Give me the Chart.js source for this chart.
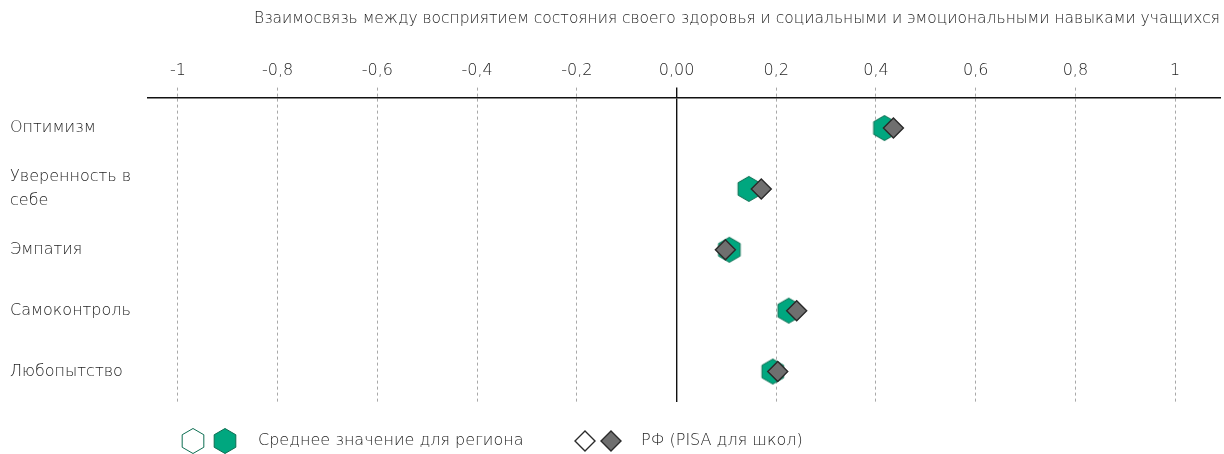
<!DOCTYPE html>
<html lang="ru">
<head>
<meta charset="utf-8">
<title>Взаимосвязь здоровья и навыков</title>
<script src="https://cdn.jsdelivr.net/npm/chart.js@4.4.1/dist/chart.umd.min.js"></script>
<style>
  html, body { margin: 0; padding: 0; background: #fff; overflow: hidden; }
  #wrap { width: 1224px; height: 454px; position: relative; }
</style>
</head>
<body>
<div id="wrap"><canvas id="chart"></canvas></div>
<script>
"use strict";

const titleText = "Взаимосвязь между восприятием состояния своего здоровья и социальными и эмоциональными навыками учащихся";
const skills = ["Оптимизм", ["Уверенность в", "себе"], "Эмпатия", "Самоконтроль", "Любопытство"];
const regionValues = [0.417, 0.145, 0.106, 0.225, 0.193];
const pisaValues = [0.435, 0.170, 0.098, 0.241, 0.203];
const tickValues = [-1, -0.8, -0.6, -0.4, -0.2, 0, 0.2, 0.4, 0.6, 0.8, 1];
const tickLabels = ["-1", "-0,8", "-0,6", "-0,4", "-0,2", "0,00", "0,2", "0,4", "0,6", "0,8", "1"];
const regionLabel = "Среднее значение для региона";
const pisaLabel = "РФ (PISA для школ)";

const FONT = "'DejaVu Sans', sans-serif";
const TEXT = "#1e1e1e";
const GREEN = "#00a77f";
const GREEN_EDGE = "#0d6e52";
const GREY = "#6f6f6f";
const GREY_EDGE = "#2a2a2a";

// pointy-top hexagon used as the region marker
function hexPath(ctx, cx, cy, r) {
  ctx.beginPath();
  for (let i = 0; i < 6; i++) {
    const a = Math.PI / 3 * i - Math.PI / 2;
    const px = cx + Math.cos(a) * r;
    const py = cy + Math.sin(a) * r;
    if (i === 0) ctx.moveTo(px, py); else ctx.lineTo(px, py);
  }
  ctx.closePath();
}

function makeHex(fill, stroke) {
  const c = document.createElement("canvas");
  c.width = 28; c.height = 28;
  const g = c.getContext("2d");
  hexPath(g, 14, 14, 12.5);
  g.fillStyle = fill;
  g.fill();
  g.lineWidth = 1;
  g.strokeStyle = stroke;
  g.stroke();
  return c;
}

const hexFilled = makeHex(GREEN, GREEN_EDGE);
const hexOpen = makeHex("#ffffff", GREEN_EDGE);

function diamond(ctx, cx, cy, r, fill) {
  ctx.beginPath();
  ctx.moveTo(cx, cy - r);
  ctx.lineTo(cx + r, cy);
  ctx.lineTo(cx, cy + r);
  ctx.lineTo(cx - r, cy);
  ctx.closePath();
  ctx.fillStyle = fill;
  ctx.fill();
  ctx.lineWidth = 1.4;
  ctx.strokeStyle = GREY_EDGE;
  ctx.stroke();
}

// legend row under the plot
const bottomLegend = {
  id: "bottomLegend",
  afterDraw(chart) {
    const ctx = chart.ctx;
    const y = 441;
    ctx.save();
    ctx.drawImage(hexOpen, 193 - 14, y - 14);
    ctx.drawImage(hexFilled, 225 - 14, y - 14);
    diamond(ctx, 585, y, 10, "#ffffff");
    diamond(ctx, 611, y, 10, GREY);
    ctx.fillStyle = TEXT;
    ctx.font = "200 16px " + FONT;
    ctx.textBaseline = "middle";
    ctx.textAlign = "left";
    ctx.fillText(regionLabel, 258, y);
    ctx.fillText(pisaLabel, 641, y);
    ctx.restore();
  },
};

const isZero = (c) => c.tick && c.tick.value === 0;

const ctx = document.getElementById("chart").getContext("2d");
new Chart(ctx, {
  type: "line",
  data: {
    labels: skills,
    datasets: [
      {
        label: pisaLabel,
        data: pisaValues,
        order: 0,
        showLine: false,
        pointStyle: "rectRot",
        pointRadius: 10,
        pointHoverRadius: 10,
        pointBackgroundColor: GREY,
        pointBorderColor: GREY_EDGE,
        pointBorderWidth: 1.4,
      },
      {
        label: regionLabel,
        data: regionValues,
        order: 1,
        showLine: false,
        pointStyle: hexFilled,
        pointRadius: 12,
        pointHoverRadius: 12,
      },
    ],
  },
  options: {
    indexAxis: "y",
    responsive: true,
    maintainAspectRatio: false,
    animation: false,
    layout: { autoPadding: false, padding: { top: 0, left: 10, right: 4, bottom: 52 } },
    scales: {
      x: {
        type: "linear",
        position: "top",
        min: -1.06,
        max: 1.09,
        afterBuildTicks: (s) => { s.ticks = tickValues.map((v) => ({ value: v })); },
        afterFit: (s) => { s.height = 57; s.paddingLeft = 0; s.paddingRight = 0; },
        ticks: {
          padding: 7,
          color: TEXT,
          font: { family: FONT, size: 16, weight: 200 },
          callback: (v) => tickLabels[tickValues.findIndex((t) => Math.abs(t - v) < 1e-9)],
        },
        grid: {
          color: (c) => (isZero(c) ? "#111111" : "#a8a8a8"),
          lineWidth: (c) => (isZero(c) ? 1.4 : 1),
          tickColor: (c) => (isZero(c) ? "#111111" : "#a8a8a8"),
          tickWidth: (c) => (isZero(c) ? 1.4 : 1),
          tickLength: 10,
          tickBorderDash: (c) => (isZero(c) ? [] : [3, 3]),
        },
        border: {
          display: true,
          color: "#111111",
          width: 1.6,
          dash: (c) => (isZero(c) ? [] : [3, 3]),
        },
      },
      y: {
        type: "category",
        offset: true,
        afterFit: (s) => { s.width = 138; },
        grid: { display: false },
        border: { display: false },
        ticks: {
          crossAlign: "far",
          color: TEXT,
          font: { family: FONT, size: 16, weight: 200, lineHeight: 1.5 },
        },
      },
    },
    plugins: {
      legend: { display: false },
      tooltip: { enabled: false },
      title: {
        display: true,
        text: titleText,
        align: "end",
        color: TEXT,
        font: { family: FONT, size: 15.5, weight: 200 },
        padding: { top: 10, bottom: 12 },
      },
    },
  },
  plugins: [bottomLegend],
});
</script>
</body>
</html>
